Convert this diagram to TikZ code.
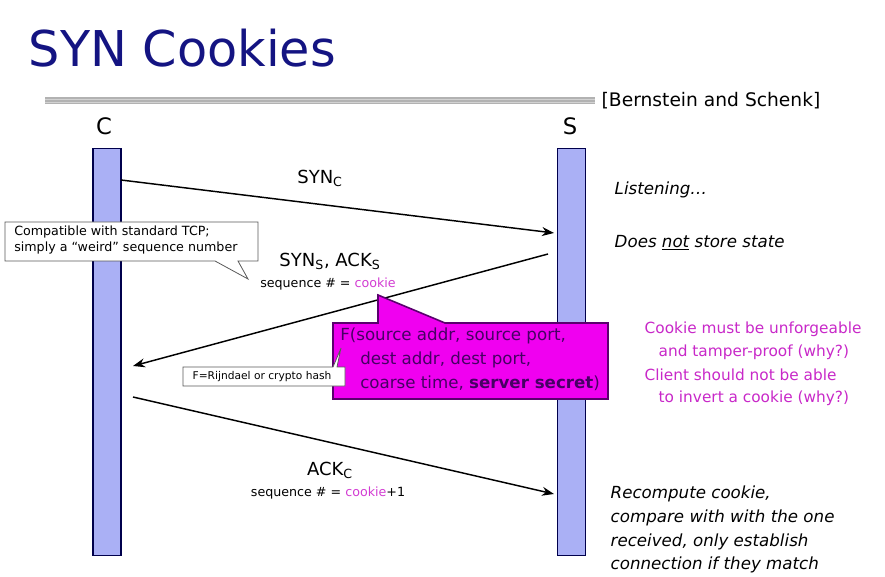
\documentclass[tikz,border=0pt]{standalone}
\usepackage{fontspec}
\setmainfont{DejaVu Sans}
\usetikzlibrary{arrows.meta}
\begin{document}
\begin{tikzpicture}[x=0.75pt,y=-0.75pt,
  bar/.style={draw=blue!30!black,fill={rgb,255:red,170;green,176;blue,245},line width=1.2pt},
  msg/.style={-{Stealth[length=9pt]},line width=1.1pt},
  side/.style={anchor=west,font=\fontsize{12.5}{14}\selectfont\itshape},
  pink/.style={anchor=west,font=\fontsize{11.5}{13}\selectfont,text={rgb,255:red,200;green,40;blue,200}},
  note/.style={draw=gray!70!black,fill=white,line width=0.6pt}]
\useasboundingbox (0,0) rectangle (885,577);
\definecolor{navy}{RGB}{20,20,130}
\definecolor{ck}{RGB}{210,60,210}
\node[anchor=west,text=navy,font=\fontsize{37}{42}\selectfont] (title) at (24,48) {SYN Cookies};
\fill[gray!60] (45,97) rectangle (595,104);
\draw[gray!35,line width=0.6pt] (45,99) -- (595,99) (45,102) -- (595,102);
\node[anchor=west,font=\fontsize{14}{16}\selectfont] (ref) at (597,101) {[Bernstein and Schenk]};
\node[font=\fontsize{17}{20}\selectfont] (C) at (104,126) {C};
\node[font=\fontsize{17}{20}\selectfont] (S) at (570,126) {S};
\node[bar,minimum width=21pt,minimum height=305pt,inner sep=0pt] (cb) at (107,352) {};
\node[bar,minimum width=21pt,minimum height=305pt,inner sep=0pt] (sb) at (571.5,352) {};
\coordinate (a1s) at (121,180); \coordinate (a1e) at (554,233);
\coordinate (a2s) at (548,254); \coordinate (a2e) at (133,366);
\coordinate (a3s) at (133,397); \coordinate (a3e) at (554,494);
\draw[msg] (a1s) -- (a1e);
\draw[msg] (a2s) -- (a2e);
\draw[msg] (a3s) -- (a3e);
\node[font=\fontsize{13.5}{16}\selectfont] (l1) at (320,178) {SYN$_{\mathrm C}$};
\node[font=\fontsize{13.5}{16}\selectfont] (l2) at (330,261) {SYN$_{\mathrm S}$, ACK$_{\mathrm S}$};
\node[font=\fontsize{9.5}{11}\selectfont] (l2b) at (328,284) {sequence \# = \textcolor{ck}{cookie}};
\node[font=\fontsize{13.5}{16}\selectfont] (l3) at (330,470) {ACK$_{\mathrm C}$};
\node[font=\fontsize{9.5}{11}\selectfont] (l3b) at (328,493) {sequence \# = \textcolor{ck}{cookie}+1};
% callout 1
\draw[note] (5,222) -- (258,222) -- (258,261) -- (238,261) -- (248,279) -- (215,261) -- (5,261) -- cycle;
\node[anchor=north west,align=left,font=\fontsize{9.5}{11.5}\selectfont,inner sep=0pt] (n1) at (14,226) {Compatible with standard TCP;\\simply a ``weird'' sequence number};
% magenta callout
\draw[draw={rgb,255:red,90;green,0;blue,110},fill={rgb,255:red,240;green,0;blue,240},line width=1.2pt]
  (333,323) -- (378,323) -- (378,295) -- (445,323) -- (608,323) -- (608,399) -- (333,399) -- cycle;
\node[anchor=north west,align=left,inner sep=0pt,text={rgb,255:red,70;green,0;blue,100},font=\fontsize{12.5}{18}\selectfont] (F) at (340,328)
  {F(source addr, source port,\\\hspace{1.2em}dest addr, dest port,\\\hspace{1.2em}coarse time, \textbf{server secret})};
% small callout
\draw[note] (183,367) -- (333,367) -- (341,348) -- (337,367) -- (345,367) -- (345,386) -- (183,386) -- cycle;
\node[font=\fontsize{8}{9}\selectfont] (n2) at (262,376.5) {F=Rijndael or crypto hash};
% side text
\node[side] (t1) at (610,190) {Listening…};
\node[side] (t2) at (610,243) {Does \underline{not} store state};
\node[pink] (p1) at (640,329) {Cookie must be unforgeable};
\node[pink] (p2) at (654,352) {and tamper-proof (why?)};
\node[pink] (p3) at (640,375) {Client should not be able};
\node[pink] (p4) at (654,398) {to invert a cookie (why?)};
\node[side] (r1) at (606,494) {Recompute cookie,};
\node[side] (r2) at (606,518) {compare with with the one};
\node[side] (r3) at (606,542) {received, only establish};
\node[side] (r4) at (606,565) {connection if they match};
\end{tikzpicture}
\end{document}
